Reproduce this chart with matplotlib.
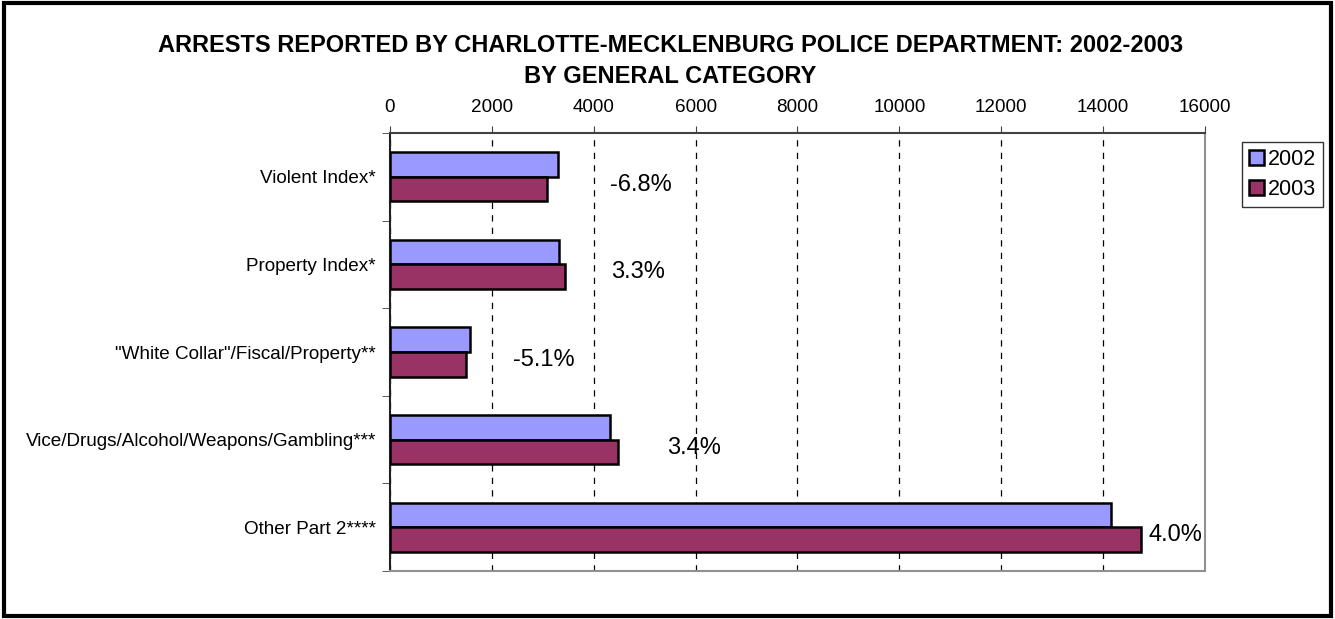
import numpy as np
import matplotlib
matplotlib.use("Agg")
from matplotlib import pyplot as plt
from matplotlib.patches import Rectangle

plt.rcParams["font.family"] = ["Liberation Sans", "DejaVu Sans"]

categories = ["Violent Index*", "Property Index*", "\"White Collar\"/Fiscal/Property**",
              "Vice/Drugs/Alcohol/Weapons/Gambling***", "Other Part 2****"]
arrests_2002 = [3300, 3327, 1578, 4317, 14165]
arrests_2003 = [3076, 3438, 1500, 4474, 14735]
pct_change = ["-6.8%", "3.3%", "-5.1%", "3.4%", "4.0%"]
x_ticks = [0, 2000, 4000, 6000, 8000, 10000, 12000, 14000, 16000]

# where the percent labels sit (x in data units)
pct_x = [4320, 4340, 2410, 5440, 14900]

fig = plt.figure(figsize=(13.35, 6.19), dpi=100)
ax = fig.add_axes([0.2921, 0.0775, 0.6105, 0.7076])

y = np.arange(len(categories))
h = 0.28
b1 = ax.barh(y - h / 2, arrests_2002, height=h, color="#9999FF", edgecolor="black", linewidth=1.8, label="2002", zorder=3)
b2 = ax.barh(y + h / 2, arrests_2003, height=h, color="#993366", edgecolor="black", linewidth=1.8, label="2003", zorder=3)

for i in range(len(categories)):
    ax.text(pct_x[i], y[i] + 0.09, pct_change[i], fontsize=17, va="center", ha="left", zorder=4)

ax.set_xlim(0, 16000)
ax.set_ylim(len(categories) - 0.5, -0.5)
ax.set_xticks(x_ticks)
ax.set_xticklabels([str(t) for t in x_ticks], fontsize=13.6)
ax.xaxis.tick_top()
ax.tick_params(axis="x", direction="out", length=5, pad=7, color="#404040")
ax.set_yticks(y)
ax.set_yticklabels(categories, fontsize=13.6)
ax.tick_params(axis="y", which="major", length=0, pad=10)
ax.set_yticks(np.arange(-0.5, len(categories)), minor=True)
ax.tick_params(axis="y", which="minor", length=6, direction="out", color="#404040")

ax.grid(axis="x", color="black", linestyle=(0, (5, 5)), linewidth=0.9, zorder=0)
ax.spines["top"].set_color("#404040")
ax.spines["top"].set_linewidth(1.5)
ax.spines["left"].set_color("#202020")
ax.spines["left"].set_linewidth(1.5)
ax.spines["right"].set_color("#909090")
ax.spines["right"].set_linewidth(1.5)
ax.spines["bottom"].set_color("#909090")
ax.spines["bottom"].set_linewidth(1.5)

leg = fig.legend(handles=[b1, b2], loc="upper left", bbox_to_anchor=(0.930, 0.771), fontsize=15.5,
                 frameon=True, fancybox=False, edgecolor="black", handlelength=0.7, handleheight=0.7,
                 handletextpad=0.15, borderpad=0.35, labelspacing=0.4, borderaxespad=0)
leg.get_frame().set_linewidth(1)

fig.text(0.502, 0.927, "ARRESTS REPORTED BY CHARLOTTE-MECKLENBURG POLICE DEPARTMENT: 2002-2003",
         ha="center", va="center", fontsize=17, fontweight="bold")
fig.text(0.502, 0.876, "BY GENERAL CATEGORY", ha="center", va="center", fontsize=17, fontweight="bold")

fig.patches.append(Rectangle((0.003, 0.005), 0.994, 0.99, transform=fig.transFigure, fill=False,
                             edgecolor="black", linewidth=3))

fig.savefig("out.png", dpi=100)
